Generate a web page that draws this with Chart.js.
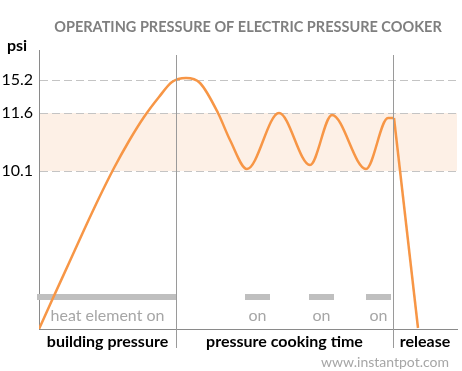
<!DOCTYPE html>
<html>
<head>
<meta charset="utf-8">
<script src="https://cdn.jsdelivr.net/npm/chart.js@4/dist/chart.umd.min.js"></script>
<style>
  html, body { margin: 0; padding: 0; background: #fff; }
  #wrap { width: 462px; height: 371px; }
</style>
</head>
<body>
<div id="wrap"><canvas id="cooker" width="462" height="371"></canvas></div>
<script>
const curveTime  = [0, 14, 30, 45, 60, 75, 90, 105, 120, 133, 147, 161, 179, 191, 208, 240, 271, 293, 327, 349, 355];
const curveLevel = [0, 31, 66, 99, 131, 161, 188, 212, 232, 247, 251, 246, 216, 189, 160, 216, 164, 214, 160, 211, 211];
const releaseTime  = [355, 379];
const releaseLevel = [211, 1];

const tickLevels = [158, 216, 249];
const tickLabels = ['10.1', '11.6', '15.2'];
const bandLevels = [158, 216];

const phaseBounds = [0, 137, 354, 418];
const phaseNames  = ['building pressure', 'pressure cooking time', 'release'];

const heatOnStart = [-2, 206, 270, 327];
const heatOnEnd   = [137, 231, 295, 352];
const heatLabels  = ['heat element on', 'on', 'on', 'on'];

const TITLE = 'OPERATING PRESSURE OF ELECTRIC PRESSURE COOKER';
const FONT = 'Lato';
const ORANGE = '#F79646';
const BAR_LEVEL = 32;
const LABEL_LEVEL = 13;

function pts(xs, ys) { return xs.map((x, i) => ({ x: x, y: ys[i] })); }

const datasets = [
    {
        label: 'pressure',
        data: pts(curveTime, curveLevel),
        borderColor: ORANGE,
        borderWidth: 2.5,
        cubicInterpolationMode: 'monotone',
        pointRadius: 0
    },
    {
        label: 'release',
        data: pts(releaseTime, releaseLevel),
        borderColor: ORANGE,
        borderWidth: 2.5,
        tension: 0,
        pointRadius: 0
    }
];
heatOnStart.forEach((s, i) => {
    datasets.push({
        label: heatLabels[i],
        data: [{ x: s, y: BAR_LEVEL }, { x: heatOnEnd[i], y: BAR_LEVEL }],
        borderColor: '#BFBFBF',
        borderWidth: 6,
        borderCapStyle: 'butt',
        pointRadius: 0,
        clip: false
    });
});

// band + vertical phase lines under everything, texts on top
const decorations = {
    id: 'decorations',
    beforeDraw(chart) {
        const { ctx, chartArea: a, scales: { y } } = chart;
        ctx.save();
        ctx.fillStyle = '#FDF0E6';
        const top = y.getPixelForValue(bandLevels[1]);
        const bot = y.getPixelForValue(bandLevels[0]);
        ctx.fillRect(a.left, top, a.right - a.left, bot - top);
        ctx.restore();
    },
    afterDraw(chart) {
        const { ctx, chartArea: a, scales: { x, y } } = chart;
        ctx.save();
        // phase separators
        ctx.strokeStyle = '#9A9A9A';
        ctx.lineWidth = 1;
        phaseBounds.slice(1, -1).forEach(b => {
            const px = Math.round(x.getPixelForValue(b)) + 0.5;
            ctx.beginPath();
            ctx.moveTo(px, a.top + 5);
            ctx.lineTo(px, a.bottom + 19);
            ctx.stroke();
        });

        ctx.textAlign = 'center';
        ctx.textBaseline = 'middle';

        // title
        ctx.fillStyle = '#7F7F7F';
        ctx.font = 'bold 14.5px ' + FONT;
        ctx.fillText(TITLE, (a.left + a.right) / 2, 27);

        // unit
        ctx.fillStyle = '#000';
        ctx.font = 'bold 16px ' + FONT;
        ctx.fillText('psi', 17, 46);

        // heat element labels
        ctx.fillStyle = '#A6A6A6';
        ctx.font = '16px ' + FONT;
        heatLabels.forEach((t, i) => {
            const cx = x.getPixelForValue((Math.max(heatOnStart[i], 0) + heatOnEnd[i]) / 2);
            ctx.fillText(t, cx, y.getPixelForValue(LABEL_LEVEL));
        });

        // phase names
        ctx.fillStyle = '#000';
        ctx.font = 'bold 16px ' + FONT;
        phaseNames.forEach((t, i) => {
            const cx = x.getPixelForValue((phaseBounds[i] + phaseBounds[i + 1]) / 2);
            ctx.fillText(t, cx, a.bottom + 13);
        });

        // source
        ctx.fillStyle = '#A6A6A6';
        ctx.font = '14px ' + FONT;
        ctx.textAlign = 'right';
        ctx.fillText('www.instantpot.com', 449, 362);
        ctx.restore();
    }
};

new Chart(document.getElementById('cooker'), {
    type: 'line',
    data: { datasets: datasets },
    options: {
        responsive: false,
        devicePixelRatio: 1,
        animation: false,
        layout: { padding: { left: 0, top: 50, right: 5, bottom: 42 } },
        plugins: {
            legend: { display: false },
            title: { display: false },
            tooltip: { enabled: false }
        },
        scales: {
            x: {
                type: 'linear',
                min: 0,
                max: 418,
                ticks: { display: false },
                grid: { display: false, drawTicks: false },
                border: { display: true, color: '#8A8A8A', width: 1 },
                afterFit: s => { s.height = 0; }
            },
            y: {
                type: 'linear',
                min: 0,
                max: 279,
                afterBuildTicks: s => { s.ticks = tickLevels.map(v => ({ value: v })); },
                ticks: {
                    padding: 6,
                    color: '#000',
                    font: { family: FONT, size: 16 },
                    callback: v => tickLabels[tickLevels.indexOf(v)]
                },
                grid: { color: '#C4C4C4', lineWidth: 1, drawTicks: false },
                border: { display: true, color: '#8A8A8A', width: 1, dash: [8, 4] },
                afterFit: s => { s.width = 39; }
            }
        }
    },
    plugins: [decorations]
});
</script>
</body>
</html>
